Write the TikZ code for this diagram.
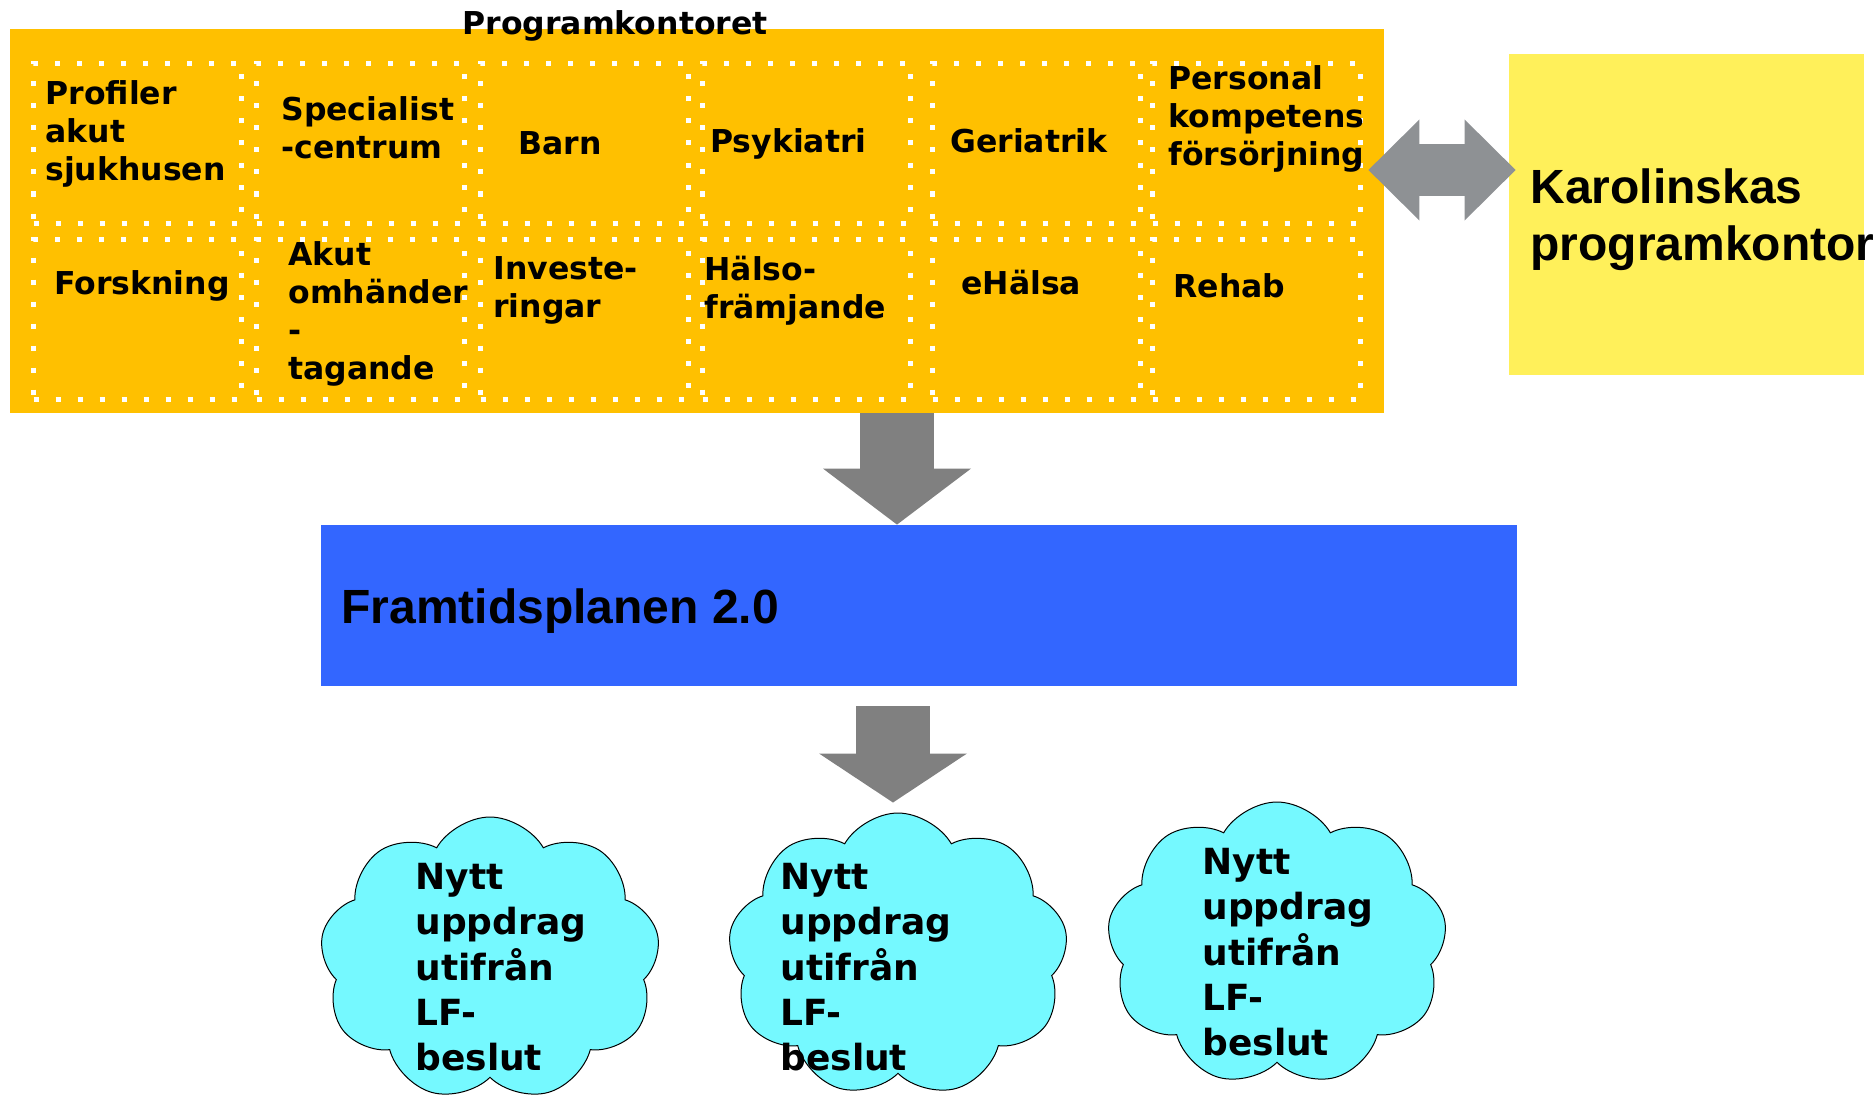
\documentclass[tikz,border=0pt]{standalone}
\usepackage{fontspec}
\newfontfamily\cellfont{DejaVu Sans}
\newfontfamily\headfont{Liberation Sans}
\usetikzlibrary{arrows.meta,fit,shapes.symbols}
\definecolor{progorange}{RGB}{255,192,0}
\definecolor{karoyellow}{RGB}{255,240,90}
\definecolor{planblue}{RGB}{51,102,255}
\definecolor{cloudcyan}{RGB}{117,249,255}
\definecolor{arrowgray}{RGB}{128,128,128}
\definecolor{linkgray}{RGB}{142,145,148}
\tikzset{
	cellbox/.style={draw=white, line width=2.5pt, dash pattern=on 2.5pt off 8.5pt, minimum width=104pt, minimum height=80pt, anchor=north west, inner sep=0pt},
	celltext/.style={anchor=north west, inner sep=0pt, align=left, font=\cellfont\bfseries\fontsize{15.75}{19}\selectfont, execute at begin node=\strut},
	cloudtext/.style={anchor=north west, inner sep=0pt, align=left, font=\cellfont\bfseries\fontsize{18}{22.6}\selectfont, execute at begin node=\strut},
	bigtext/.style={inner sep=0pt, align=left, font=\headfont\bfseries\fontsize{24}{28.5}\selectfont},
	wish/.style={cloud, cloud puffs=9, cloud puff arc=120, cloud ignores aspect, draw=black, line width=0.5pt, fill=cloudcyan, minimum width=170pt, minimum height=142pt, inner sep=0pt},
	downarrow/.style={arrowgray, line width=37pt, -{Triangle[length=#1, width=74pt, line width=0pt]}},
	linkarrow/.style={linkgray, line width=25.5pt, {Triangle[length=25.5pt, width=50.5pt, line width=0pt]}-{Triangle[length=25.5pt, width=50.5pt, line width=0pt]}}
}
\begin{document}
\begin{tikzpicture}[x=0.5pt, y=-0.5pt]
			%%%%% START %%%%%
			\useasboundingbox (0,0) rectangle (1874,1097);
			
			\node[fit={(10,29) (1384,413)}, inner sep=0pt, fill=progorange] (prog) {};
			\node[anchor=base west, inner sep=0pt, font=\cellfont\bfseries\fontsize{15.75}{19}\selectfont] (progtitle) at (462,35) {Programkontoret};
			
			\foreach \cx [count=\c] in {31,254,478,700,930,1150} {
				\foreach \ry [count=\r] in {61,237} {
					\node[cellbox] (cell-\r-\c) at (\cx,\ry) {};
				}
			}
			
			\node[celltext] (profiler) at (45,80.4) {Profiler\\akut\\sjukhusen};
			\node[celltext] (special) at (281,96.4) {Specialist\\-centrum};
			\node[celltext] (barn) at (518,127.4) {Barn};
			\node[celltext] (psyk) at (710,125.4) {Psykiatri};
			\node[celltext] (geri) at (950,125.4) {Geriatrik};
			\node[celltext] (personal) at (1168,65.4) {Personal\\kompetens\\försörjning};
			
			\node[celltext] (forsk) at (54,267.4) {Forskning};
			\node[celltext] (akut) at (288,241.4) {Akut\\omhänder\\-\\tagande};
			\node[celltext] (invest) at (493,256.4) {Investe-\\ringar};
			\node[celltext] (halso) at (704,255.4) {Hälso-\\främjande};
			\node[celltext] (ehalsa) at (961,267.4) {eHälsa};
			\node[celltext] (rehab) at (1173,270.4) {Rehab};
			
			\node[fit={(1509,54) (1864,375)}, inner sep=0pt, fill=karoyellow] (karo) {};
			\node[bigtext, anchor=north west, execute at begin node=\strut] (karotext) at (1530,168.1) {Karolinskas\\programkontor};
			
			\node[fit={(321,525) (1517,686)}, inner sep=0pt, fill=planblue] (plan) {};
			\node[bigtext, anchor=base west] (plantext) at (341,623) {Framtidsplanen 2.0};
			
			\node[wish] (cloudA) at (490,959) {};
			\node[wish] (cloudB) at (898,955) {};
			\node[wish] (cloudC) at (1277,944) {};
			\node[cloudtext] (textA) at (415,863) {Nytt\\uppdrag\\utifrån\\LF-\\beslut};
			\node[cloudtext] (textB) at (780,863) {Nytt\\uppdrag\\utifrån\\LF-\\beslut};
			\node[cloudtext] (textC) at (1202,848) {Nytt\\uppdrag\\utifrån\\LF-\\beslut};
			
			\coordinate (downA) at (897,0);
			\coordinate (downB) at (893,0);
			\coordinate (linkrow) at (0,170);
			\draw[downarrow=28pt] (prog.south -| downA) -- (plan.north -| downA);
			\draw[downarrow=24.5pt, shorten <=10pt, shorten >=5pt] (plan.south -| downB) -- (cloudB.north -| downB);
			\draw[linkarrow, shorten <=-8pt, shorten >=-3.5pt] (prog.east |- linkrow) -- (karo.west |- linkrow);
			
			%%%%% END %%%%%
		\end{tikzpicture}
\end{document}
